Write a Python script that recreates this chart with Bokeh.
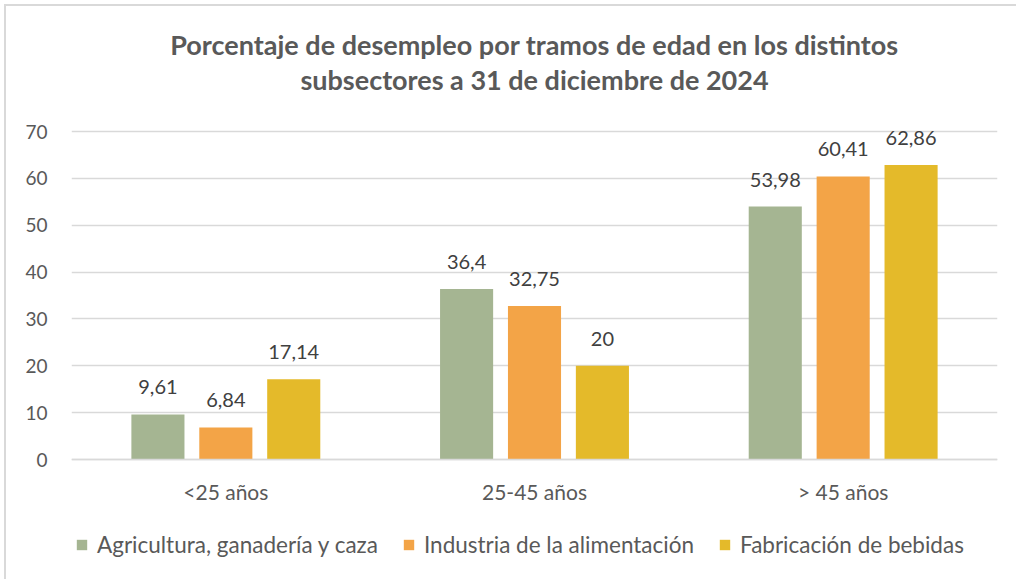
from bokeh.plotting import figure
from bokeh.models import FactorRange, Range1d, ColumnDataSource, Title, Legend, LegendItem
from bokeh.transform import dodge
from bokeh.core.properties import value
from bokeh.embed import file_html
from bokeh.resources import INLINE

categories = ["<25 años", "25-45 años", "> 45 años"]
series_names = ["Agricultura, ganadería y caza", "Industria de la alimentación", "Fabricación de bebidas"]
agricultura = [9.61, 36.4, 53.98]
alimentacion = [6.84, 32.75, 60.41]
bebidas = [17.14, 20, 62.86]
y_ticks = [0, 10, 20, 30, 40, 50, 60, 70]

colors = ["#A5B592", "#F3A447", "#E4BA2A"]
FONT = "Lato"
TXT = "#595959"

def fmt(v):
    return f"{v:g}".replace(".", ",")

src = ColumnDataSource(dict(
    cat=categories,
    a=agricultura, b=alimentacion, c=bebidas,
    la=[fmt(v) for v in agricultura],
    lb=[fmt(v) for v in alimentacion],
    lc=[fmt(v) for v in bebidas],
))

# pixel mapping: value 70 at y=131, 0 at y=459 (328 px); frame from y=95 to y=579
PX = 328 / 70
FRAME_TOP = 95
y_bottom = -(579 - 459) / PX
y_top = 70 + (131 - FRAME_TOP) / PX
p = figure(x_range=FactorRange(factors=categories), y_range=Range1d(y_bottom, y_top),
           width=1016, height=579, output_backend="svg", toolbar_location=None,
           min_border_left=71, min_border_right=19, min_border_top=FRAME_TOP, min_border_bottom=0)
p.outline_line_color = None
p.background_fill_color = "white"
p.border_fill_color = None
p.styles = {"box-shadow": "inset 4px 4px 0 0 #FFFFFF, inset 6px 6px 0 0 #D9D9D9"}

offsets = [-0.22, 0.0, 0.22]
cols = ["a", "b", "c"]
lcols = ["la", "lb", "lc"]
items = []
for off, col, lcol, color, name in zip(offsets, cols, lcols, colors, series_names):
    r = p.vbar(x=dodge("cat", off, range=p.x_range), top=col, bottom=0, width=0.172, source=src,
               fill_color=color, line_color=None)
    items.append(LegendItem(label=name, renderers=[r]))
    p.text(x=dodge("cat", off, range=p.x_range), y=col, text=lcol, source=src,
           text_align="center", text_baseline="bottom", y_offset=-20,
           text_font=value(FONT), text_font_size="20px", text_color="#404040")

# Titles
t2 = Title(text="subsectores a 31 de diciembre de 2024", align="center",
           text_font=FONT, text_font_size="27px", text_font_style="bold",
           text_color=TXT, standoff=0)
t1 = Title(text="Porcentaje de desempleo por tramos de edad en los distintos", align="center",
           text_font=FONT, text_font_size="27px", text_font_style="bold",
           text_color=TXT, standoff=0)
p.add_layout(t2, "above")
p.add_layout(t1, "above")

# Axes
p.yaxis.ticker = y_ticks
p.yaxis.axis_line_color = None
p.yaxis.major_tick_line_color = None
p.yaxis.minor_tick_line_color = None
p.yaxis.major_label_text_font = FONT
p.yaxis.major_label_text_font_size = "19px"
p.yaxis.major_label_text_color = TXT
p.yaxis.major_label_standoff = 18

p.xaxis.fixed_location = 0
p.xaxis.axis_line_color = "#D9D9D9"
p.xaxis.axis_line_width = 1.5
p.xaxis.major_tick_line_color = None
p.xaxis.minor_tick_line_color = None
p.xaxis.major_tick_out = 0
p.xaxis.major_label_text_font = FONT
p.xaxis.major_label_text_font_size = "21px"
p.xaxis.major_label_text_color = TXT
p.xaxis.major_label_standoff = 19

p.xgrid.grid_line_color = None
p.ygrid.grid_line_color = "#D9D9D9"
p.ygrid.grid_line_width = 1.5

legend = Legend(items=items, orientation="horizontal", location=(4, 21),
                label_text_font=FONT, label_text_font_size="22.5px", label_text_color=TXT,
                glyph_width=13, glyph_height=13, label_standoff=9, spacing=24,
                border_line_color=None, background_fill_alpha=0, margin=0, padding=5)
p.add_layout(legend, "center")

open("out.html", "w").write(file_html(p, INLINE))
